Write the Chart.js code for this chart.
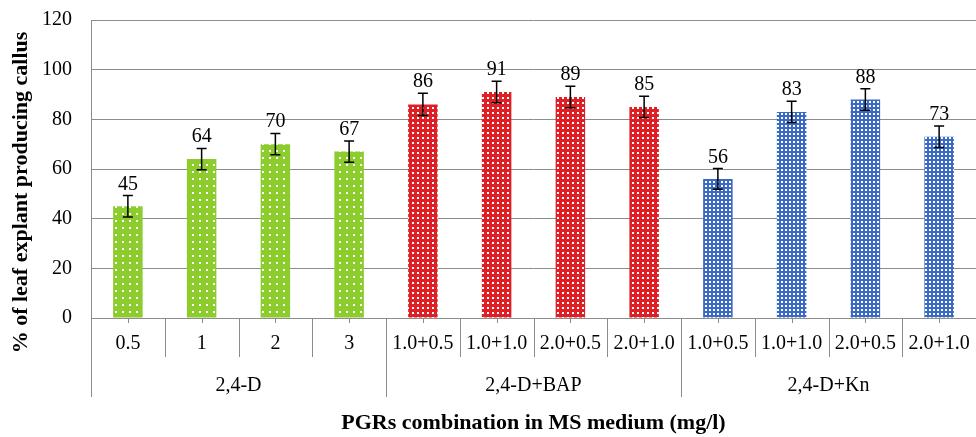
<!DOCTYPE html>
<html>
<head>
<meta charset="utf-8">
<script src="https://cdn.jsdelivr.net/npm/chart.js@4.4.1/dist/chart.umd.min.js"></script>
<style>
  html, body { margin: 0; padding: 0; background: #fff; }
  #wrap { width: 976px; height: 437px; }
</style>
</head>
<body>
<div id="wrap"><canvas id="myChart" width="976" height="437"></canvas></div>
<script>
const labels = ['0.5', '1', '2', '3', '1.0+0.5', '1.0+1.0', '2.0+0.5', '2.0+1.0', '1.0+0.5', '1.0+1.0', '2.0+0.5', '2.0+1.0'];
const groups = ['2,4-D', '2,4-D+BAP', '2,4-D+Kn'];
const groupSizes = [4, 4, 4];
const values = [45, 64, 70, 67, 86, 91, 89, 85, 56, 83, 88, 73];
const errors = [4.3, 4.3, 4.3, 4.3, 4.5, 4.3, 4.3, 4.3, 4.2, 4.3, 4.3, 4.3];
const yTicks = [0, 20, 40, 60, 80, 100, 120];
const yTitle = '% of leaf explant producing callus';

const serif = '"Liberation Serif", "Times New Roman", serif';
const lineGray = '#8c8c8c';

function makePattern(size, base, draw) {
    const c = document.createElement('canvas');
    c.width = size;
    c.height = size;
    const g = c.getContext('2d');
    g.fillStyle = base;
    g.fillRect(0, 0, size, size);
    g.fillStyle = '#ffffff';
    draw(g);
    return g.createPattern(c, 'repeat');
}

const greenFill = makePattern(7, 'rgb(140,204,45)', g => {
    g.fillRect(3, 3, 2, 2);
});
const redFill = makePattern(5, 'rgb(222,32,38)', g => {
    g.fillRect(2, 2, 2, 2);
});
const blueFill = makePattern(4, 'rgb(58,106,194)', g => {
    g.fillRect(1, 1, 2, 2);
});

const fills = [];
groupSizes.forEach((n, gi) => {
    for (let i = 0; i < n; i++) fills.push([greenFill, redFill, blueFill][gi]);
});

// error bars, value labels and the two-level x axis
const extras = {
    id: 'extras',
    afterDatasetsDraw(chart) {
        const ctx = chart.ctx;
        const x = chart.scales.x;
        const y = chart.scales.y;
        ctx.save();
        ctx.strokeStyle = '#000';
        ctx.lineWidth = 1.5;
        ctx.fillStyle = '#000';
        ctx.font = '20px ' + serif;
        ctx.textAlign = 'center';
        ctx.textBaseline = 'alphabetic';
        values.forEach((v, i) => {
            const px = x.getPixelForValue(i);
            const top = y.getPixelForValue(v + errors[i]);
            const bot = y.getPixelForValue(v - errors[i]);
            ctx.beginPath();
            ctx.moveTo(px, top);
            ctx.lineTo(px, bot);
            ctx.moveTo(px - 5, top);
            ctx.lineTo(px + 5, top);
            ctx.moveTo(px - 5, bot);
            ctx.lineTo(px + 5, bot);
            ctx.stroke();
            ctx.fillText(String(v), px, top - 6);
        });
        ctx.restore();
    },
    afterDraw(chart) {
        const ctx = chart.ctx;
        const x = chart.scales.x;
        const area = chart.chartArea;
        const step = x.getPixelForValue(1) - x.getPixelForValue(0);
        const base = area.bottom;
        ctx.save();
        ctx.strokeStyle = lineGray;
        ctx.lineWidth = 1;
        // y axis line running down through the label rows
        ctx.beginPath();
        ctx.moveTo(area.left + 0.5, area.top);
        ctx.lineTo(area.left + 0.5, base + 79);
        ctx.stroke();
        // small ticks at bar centres
        labels.forEach((l, i) => {
            const px = Math.round(x.getPixelForValue(i)) + 0.5;
            ctx.beginPath();
            ctx.moveTo(px, base);
            ctx.lineTo(px, base + 5);
            ctx.stroke();
        });
        // separators between categories
        let idx = 0;
        const groupEdges = [0];
        groupSizes.forEach(n => { idx += n; groupEdges.push(idx); });
        for (let i = 1; i < labels.length; i++) {
            const px = Math.round(x.getPixelForValue(i) - step / 2) + 0.5;
            const long = groupEdges.includes(i);
            ctx.beginPath();
            ctx.moveTo(px, base);
            ctx.lineTo(px, base + (long ? 79 : 39));
            ctx.stroke();
        }
        // group labels
        ctx.fillStyle = '#000';
        ctx.font = '20px ' + serif;
        ctx.textAlign = 'center';
        ctx.textBaseline = 'middle';
        groups.forEach((g, gi) => {
            const a = x.getPixelForValue(groupEdges[gi]) - step / 2;
            const b = x.getPixelForValue(groupEdges[gi + 1] - 1) + step / 2;
            ctx.fillText(g, (a + b) / 2, base + 68);
        });
        // y axis title, centred a bit lower than the plot like the original
        ctx.translate(21, (area.top + base + 39) / 2 + 4);
        ctx.rotate(-Math.PI / 2);
        ctx.font = 'bold 22px ' + serif;
        ctx.fillText(yTitle, 0, 0);
        ctx.restore();
    }
};

const ctx = document.getElementById('myChart');

new Chart(ctx, {
    type: 'bar',
    data: {
        labels: labels,
        datasets: [{
            label: yTitle,
            data: values,
            backgroundColor: fills,
            borderWidth: 0,
            barPercentage: 0.4,
            categoryPercentage: 1.0
        }]
    },
    options: {
        responsive: false,
        animation: false,
        devicePixelRatio: 1,
        layout: {
            padding: { top: 20, right: 0, bottom: 0, left: 0 }
        },
        plugins: {
            legend: { display: false },
            tooltip: { enabled: false }
        },
        scales: {
            x: {
                grid: { display: false, drawTicks: false },
                border: { display: true, color: lineGray, width: 1 },
                ticks: {
                    color: '#000',
                    font: { family: serif, size: 20 },
                    padding: 14,
                    maxRotation: 0,
                    autoSkip: false
                },
                title: {
                    display: true,
                    text: 'PGRs combination in MS medium (mg/l)',
                    color: '#000',
                    font: { family: serif, size: 22, weight: 'bold' },
                    padding: { top: 0, bottom: 0 }
                },
                afterFit(scale) {
                    scale.height = 119;
                    scale.paddingLeft = 0;
                    scale.paddingRight = 0;
                }
            },
            y: {
                min: 0,
                max: 120,
                afterBuildTicks(scale) {
                    scale.ticks = yTicks.map(v => ({ value: v }));
                },
                grid: { color: lineGray, drawTicks: false },
                border: { display: false },
                ticks: {
                    color: '#000',
                    font: { family: serif, size: 20 },
                    padding: 19
                },
                afterFit(scale) {
                    scale.width = 91;
                    scale.paddingTop = 0;
                    scale.paddingBottom = 0;
                }
            }
        }
    },
    plugins: [extras]
});
</script>
</body>
</html>
